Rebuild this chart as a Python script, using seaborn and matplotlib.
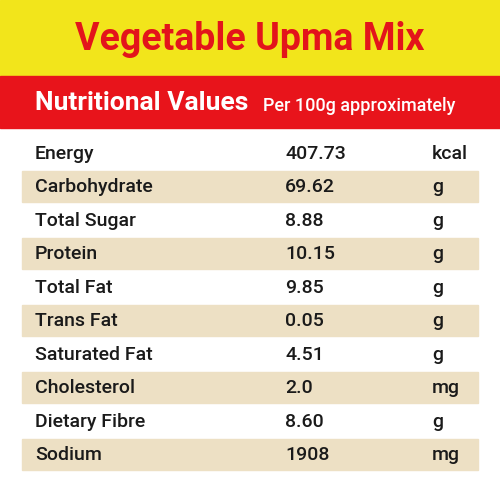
import matplotlib
matplotlib.use("Agg")
import matplotlib.pyplot as plt
import seaborn as sns
from matplotlib.patches import Rectangle

title = "Vegetable Upma Mix"
subtitle = "Nutritional Values"
subnote = "Per 100g approximately"
nutrients = ["Energy", "Carbohydrate", "Total Sugar", "Protein", "Total Fat",
             "Trans Fat", "Saturated Fat", "Cholesterol", "Dietary Fibre", "Sodium"]
values = ["407.73", "69.62", "8.88", "10.15", "9.85", "0.05", "4.51", "2.0", "8.60", "1908"]
units = ["kcal", "g", "g", "g", "g", "g", "g", "mg", "g", "mg"]

sns.set_theme(style="white")
fam = ["Roboto", "DejaVu Sans"]
plt.rcParams["font.family"] = fam

fig = plt.figure(figsize=(5, 5), dpi=100)
ax = fig.add_axes([0, 0, 1, 1])
ax.set_xlim(0, 500)
ax.set_ylim(500, 0)
ax.axis("off")
fig.patch.set_facecolor("white")

ax.add_patch(Rectangle((0, 0), 500, 76, color="#f2e51b"))
ax.add_patch(Rectangle((0, 76), 500, 52, color="#e8141b"))
ax.text(250, 40, title, ha="center", va="center", fontsize=27, fontweight="bold", color="#e3141b")
ax.text(35, 103, subtitle, ha="left", va="center", fontsize=19, fontweight="bold", color="white")
ax.text(263, 106, subnote, ha="left", va="center", fontsize=13, fontweight="medium", color="white")

top, step = 136, 33.5
for i, (n, v, u) in enumerate(zip(nutrients, values, units)):
    y0 = top + i * step
    if i % 2 == 1:
        ax.add_patch(Rectangle((22, y0 + 1), 456, step - 2, color="#ede0c4"))
    yc = y0 + step / 2 + 1
    ax.text(35, yc, n, ha="left", va="center", fontsize=14, fontweight="medium", color="#1a1a1a")
    ax.text(285, yc, v, ha="left", va="center", fontsize=14, fontweight="medium", color="#1a1a1a")
    ax.text(432, yc, u, ha="left", va="center", fontsize=14, fontweight="medium", color="#1a1a1a")

fig.savefig("out.png", dpi=100)
